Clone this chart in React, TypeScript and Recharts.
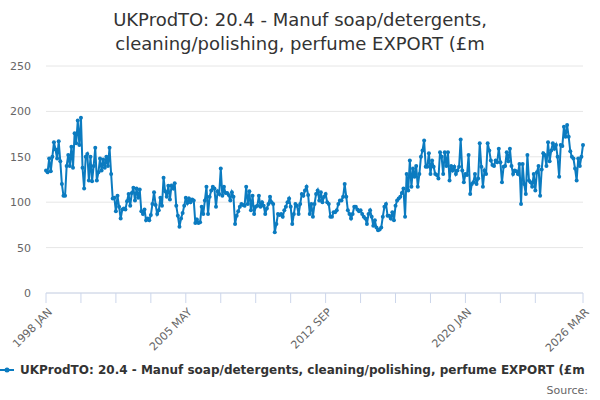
import React from "react";
import { LineChart, Line, XAxis, YAxis, CartesianGrid } from "recharts";

const monthNames = ["JAN", "FEB", "MAR", "APR", "MAY", "JUN", "JUL", "AUG", "SEP", "OCT", "NOV", "DEC"];
const startYear = 1998;

// monthly values, one row per year (1998 JAN .. 2026 MAR)
const exportValues = [
  135, 133, 148, 134, 150, 166, 158, 148, 167, 145, 120, 107, // 1998
  107, 140, 152, 140, 161, 138, 176, 165, 190, 163, 193, 138, // 1999
  115, 150, 153, 124, 150, 123, 140, 160, 124, 133, 148, 135, // 2000
  147, 138, 150, 140, 160, 131, 104, 105, 90, 107, 95, 82, // 2001
  92, 93, 92, 101, 109, 96, 110, 116, 102, 115, 105, 114, // 2002
  90, 87, 92, 80, 82, 80, 86, 98, 111, 97, 87, 91, // 2003
  105, 96, 127, 112, 106, 118, 103, 118, 115, 121, 96, 85, // 2004
  73, 82, 88, 96, 105, 99, 104, 100, 103, 102, 77, 81, // 2005
  77, 78, 95, 87, 102, 117, 87, 106, 113, 117, 115, 95, // 2006
  112, 109, 137, 107, 117, 110, 110, 108, 102, 111, 106, 76, // 2007
  85, 90, 95, 98, 97, 96, 117, 98, 112, 91, 107, 87, // 2008
  95, 96, 107, 95, 100, 96, 87, 93, 98, 106, 100, 98, // 2009
  67, 76, 87, 86, 87, 84, 91, 95, 100, 104, 95, 76, // 2010
  87, 98, 96, 87, 98, 109, 107, 113, 117, 108, 87, 98, // 2011
  84, 98, 109, 113, 102, 111, 100, 106, 109, 100, 98, 84, // 2012
  84, 89, 89, 91, 98, 102, 102, 106, 120, 106, 91, 87, // 2013
  82, 87, 95, 95, 92, 90, 91, 87, 84, 82, 76, 87, // 2014
  91, 84, 74, 80, 72, 69, 70, 72, 84, 95, 98, 85, // 2015
  85, 82, 89, 80, 96, 102, 104, 106, 110, 115, 84, 131, // 2016
  113, 146, 117, 137, 128, 140, 117, 131, 150, 157, 168, 139, // 2017
  139, 154, 131, 146, 139, 131, 130, 126, 155, 150, 131, 155, // 2018
  140, 155, 124, 140, 135, 139, 131, 135, 139, 169, 135, 122, // 2019
  131, 130, 152, 109, 120, 122, 131, 120, 126, 165, 139, 117, // 2020
  135, 131, 165, 157, 146, 141, 140, 146, 144, 159, 144, 122, // 2021
  139, 140, 155, 145, 159, 140, 131, 135, 134, 131, 142, 98, // 2022
  142, 120, 109, 152, 124, 122, 117, 131, 113, 133, 140, 107, // 2023
  136, 154, 152, 140, 166, 145, 157, 165, 159, 163, 150, 128, // 2024
  163, 162, 183, 172, 185, 172, 156, 150, 148, 137, 124, 148, // 2025
  140, 150, 163, // 2026
];

const tickIndices = [0, 22, 44, 66, 88, 110, 132, 154, 176, 198, 220, 242, 264, 286, 308, 338];
const labelIndices = [0, 88, 176, 264, 338];
const yTicks = [0, 50, 100, 150, 200, 250];

const seriesName = "UKProdTO: 20.4 - Manuf soap/detergents, cleaning/polishing, perfume EXPORT (£m";
const titleLines = ["UKProdTO: 20.4 - Manuf soap/detergents,", "cleaning/polishing, perfume EXPORT (£m"];

const periodLabel = (i: number) => `${startYear + Math.floor(i / 12)} ${monthNames[i % 12]}`;

const data = exportValues.map((v, i) => ({ i, label: periodLabel(i), value: v }));

const FONT = "'DejaVu Sans', 'Lucida Grande', Arial, sans-serif";
const LINE_COLOR = "#0b7bc0";

const XTick = (props: any) => {
  const { x, y, payload } = props;
  if (!labelIndices.includes(payload.value)) return null;
  const tx = x + 4;
  const ty = y + 5;
  return (
    <text
      x={tx}
      y={ty}
      transform={`rotate(-45 ${tx} ${ty})`}
      textAnchor="end"
      fontSize={11}
      fill="#666666"
      fontFamily={FONT}
      dy="0.35em"
    >
      {periodLabel(payload.value)}
    </text>
  );
};

export default function App() {
  return (
    <div style={{ position: "relative", width: 600, height: 400, fontFamily: FONT, background: "#fff" }}>
      <style>{`body{margin:0}`}</style>
      <div
        style={{
          position: "absolute",
          top: 8,
          left: 0,
          width: 600,
          textAlign: "center",
          fontSize: 18,
          lineHeight: "24px",
          color: "#333333",
        }}
      >
        {titleLines.map((t) => (
          <div key={t}>{t}</div>
        ))}
      </div>
      <LineChart width={600} height={400} data={data} margin={{ top: 66, right: 17, left: 0, bottom: 0 }}>
        <CartesianGrid vertical={false} stroke="#e6e6e6" />
        <XAxis
          dataKey="i"
          type="number"
          domain={[0, 338]}
          ticks={tickIndices}
          interval={0}
          height={107}
          stroke="#ccd6eb"
          tickSize={10}
          tickMargin={2}
          tick={<XTick />}
        />
        <YAxis
          domain={[0, 250]}
          ticks={yTicks}
          width={46}
          axisLine={false}
          tickLine={false}
          tickSize={0}
          tickMargin={15}
          tick={{ fontSize: 11, fill: "#666666", fontFamily: FONT }}
        />
        <Line
          type="linear"
          dataKey="value"
          stroke={LINE_COLOR}
          strokeWidth={2}
          dot={{ r: 2, fill: LINE_COLOR, stroke: LINE_COLOR, strokeWidth: 0 }}
          isAnimationActive={false}
        />
      </LineChart>
      <div
        style={{
          position: "absolute",
          top: 361,
          left: 0,
          width: 600,
          height: 18,
          overflow: "hidden",
          whiteSpace: "nowrap",
          display: "flex",
          alignItems: "center",
        }}
      >
        <svg width={18} height={18} style={{ flex: "none" }}>
          <line x1={0} y1={9} x2={14} y2={9} stroke={LINE_COLOR} strokeWidth={2} />
          <circle cx={7} cy={9} r={2.5} fill={LINE_COLOR} />
        </svg>
        <span style={{ fontSize: 12, fontWeight: "bold", color: "#333333", marginLeft: 2 }}>{seriesName}</span>
      </div>
      <div
        style={{
          position: "absolute",
          top: 384,
          right: 12,
          fontSize: 11,
          color: "#666666",
        }}
      >
        Source:
      </div>
    </div>
  );
}
